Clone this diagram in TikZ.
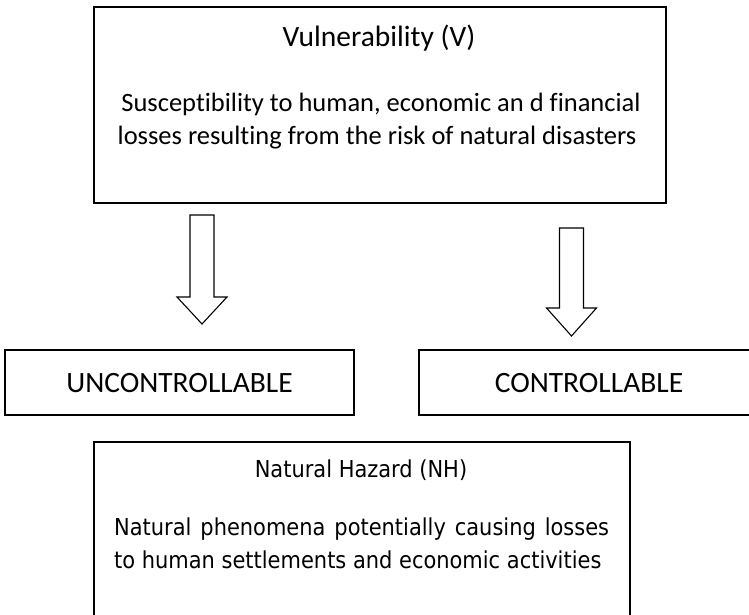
\documentclass[tikz,border=0pt]{standalone}
\usepackage{fontspec}
\setmainfont[Ligatures=NoCommon]{Carlito}
\newfontfamily\hazardfont{DejaVu Sans Condensed}
\usetikzlibrary{calc,positioning}

\tikzset{
  box/.style={draw, line width=1.3pt, inner sep=0pt},
  blockarrow/.style={draw, line width=1.1pt, line join=miter, fill=white},
  bodytext/.style={anchor=base, inner sep=0pt, font=\fontsize{26.5}{33}\selectfont},
  hazardtext/.style={anchor=base west, inner sep=0pt, font=\hazardfont\fontsize{23.3}{33}\selectfont}
}

\begin{document}
\begin{tikzpicture}[x=1pt, y=-1pt]
    \useasboundingbox (0,0) rectangle (749,615);

    % top box
    \node[box, minimum width=572pt, minimum height=196pt] (vuln) at (380,105) {};
    \node[bodytext, font=\fontsize{29.5}{33}\selectfont] (vulntitle) at (379,47) {Vulnerability (V)};
    \node[bodytext] (vulnline1) at (381,112) {Susceptibility to human, economic an d financial};
    \node[bodytext] (vulnline2) at (377,144) {losses resulting from the risk of natural disasters};

    % block arrows
    \foreach \x/\ytop/\yhead/\ytip in {202/215/297/324, 571.5/228/308/336} {
        \draw[blockarrow] (\x-12,\ytop) -- (\x+12,\ytop) -- (\x+12,\yhead) -- (\x+25,\yhead)
            -- (\x,\ytip) -- (\x-25,\yhead) -- (\x-12,\yhead) -- cycle;
    }

    % middle boxes
    \node[box, minimum width=349pt, minimum height=65pt] (unctrl) at (179.5,382.5) {};
    \node[bodytext, font=\fontsize{29.5}{33}\selectfont] (uncttext) at (179.5,392) {UNCONTROLLABLE};
    \node[box, minimum width=351pt, minimum height=65pt] (ctrl) at (594.5,382.5) {};
    \node[bodytext, font=\fontsize{29.5}{33}\selectfont] (ctrltext) at (589,392) {CONTROLLABLE};

    % bottom box
    \node[box, minimum width=536pt, minimum height=218pt] (hazard) at (362,551) {};
    \node[hazardtext, anchor=base] (hazardtitle) at (361,477) {Natural Hazard (NH)};
    \node[hazardtext] (hazardline1) at (114,535) {\makebox[495pt][s]{Natural phenomena potentially causing losses}};
    \node[hazardtext] (hazardline2) at (114,568) {to human settlements and economic activities};
\end{tikzpicture}
\end{document}
